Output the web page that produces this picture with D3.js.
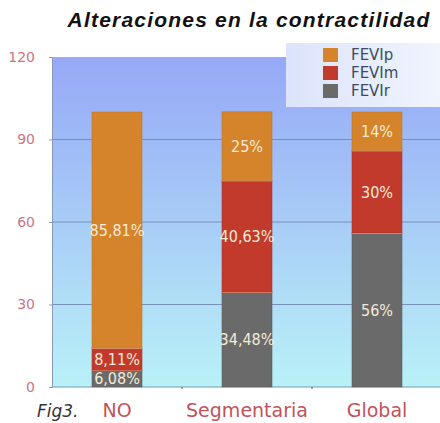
<!DOCTYPE html>
<html>
<head>
<meta charset="utf-8">
<script src="https://cdn.jsdelivr.net/npm/d3@7"></script>
<style>
  html, body { margin: 0; padding: 0; background: #fff; }
  svg { display: block; }
</style>
</head>
<body>
<div id="chart"></div>
<script>
// DATA
const categories = ["NO", "Segmentaria", "Global"];
const fevir = [6.08, 34.48, 56];
const fevim = [8.11, 40.63, 30];
const fevip = [85.81, 25, 14];
const seriesNames = ["FEVIr", "FEVIm", "FEVIp"];
const yTicks = [0, 30, 60, 90, 120];

const width = 440;
const height = 423;
const margin = { top: 57, right: -2, bottom: 36, left: 52 };

const colors = { FEVIp: "#d5842b", FEVIm: "#c13a2c", FEVIr: "#6a6a6a" };

const rows = categories.map((c, i) => ({ cat: c, FEVIr: fevir[i], FEVIm: fevim[i], FEVIp: fevip[i] }));
const stacked = d3.stack().keys(seriesNames)(rows);

function fmt(v) {
    return String(v).replace('.', ',') + '%';
}

const svg = d3.select('#chart').append('svg')
    .attr('width', width)
    .attr('height', height);

const defs = svg.append('defs');
const bg = defs.append('linearGradient').attr('id', 'bg')
    .attr('x1', 0).attr('y1', 0).attr('x2', 0).attr('y2', 1);
bg.append('stop').attr('offset', '0%').attr('stop-color', '#96a8f6');
bg.append('stop').attr('offset', '100%').attr('stop-color', '#b9f1f7');

const lg = defs.append('linearGradient').attr('id', 'lg')
    .attr('x1', 0).attr('y1', 0).attr('x2', 1).attr('y2', 0);
lg.append('stop').attr('offset', '0%').attr('stop-color', '#dce4fb');
lg.append('stop').attr('offset', '100%').attr('stop-color', '#f0f4fd');

const x = d3.scaleBand()
    .domain(categories)
    .range([margin.left, width - margin.right])
    .paddingInner(0.615)
    .paddingOuter(0.3075);

const y = d3.scaleLinear()
    .domain([0, 120])
    .range([height - margin.bottom, margin.top]);

// plot background
svg.append('rect')
    .attr('x', margin.left)
    .attr('y', y(120))
    .attr('width', width - margin.left)
    .attr('height', y(0) - y(120))
    .attr('fill', 'url(#bg)');

// gridlines
svg.append('g')
    .selectAll('line')
    .data(yTicks.filter(t => t > 0 && t < 120))
    .enter().append('line')
    .attr('x1', margin.left)
    .attr('x2', width)
    .attr('y1', d => y(d))
    .attr('y2', d => y(d))
    .attr('stroke', '#7890b8')
    .attr('stroke-width', 1);

// y axis
const yAxis = svg.append('g')
    .attr('transform', `translate(${margin.left},0)`)
    .call(d3.axisLeft(y).tickValues(yTicks).tickSize(3).tickPadding(14));
yAxis.select('.domain').attr('stroke', '#8a98b8');
yAxis.selectAll('.tick line').attr('stroke', '#8a98b8');
yAxis.selectAll('text')
    .attr('fill', '#c97684')
    .style('font-family', 'DejaVu Sans')
    .style('font-size', '14px');

// x axis
const xAxis = svg.append('g')
    .attr('transform', `translate(0,${y(0)})`)
    .call(d3.axisBottom(x).tickSize(0).tickPadding(17));
xAxis.select('.domain').attr('stroke', '#7b98b0').attr('d', `M${margin.left},0H${width}`);
xAxis.selectAll('text')
    .attr('fill', '#c2525a')
    .style('font-family', 'DejaVu Sans')
    .style('font-size', '19px');

// small ticks between categories
svg.append('g')
    .selectAll('line')
    .data(categories.slice(1))
    .enter().append('line')
    .attr('x1', d => x(d) - x.step() * x.paddingInner() / 2)
    .attr('x2', d => x(d) - x.step() * x.paddingInner() / 2)
    .attr('y1', y(0))
    .attr('y2', y(0) + 2)
    .attr('stroke', '#555');

// bars
const layers = svg.append('g').selectAll('g.layer')
    .data(stacked)
    .enter().append('g')
    .attr('class', 'layer');

layers.selectAll('rect')
    .data(d => d.map(s => ({ key: d.key, s: s })))
    .enter().append('rect')
    .attr('x', d => x(d.s.data.cat))
    .attr('y', d => y(d.s[1]))
    .attr('width', x.bandwidth())
    .attr('height', d => y(d.s[0]) - y(d.s[1]))
    .attr('fill', d => colors[d.key])
    .attr('stroke', d => d3.color(colors[d.key]).darker(0.4))
    .attr('stroke-opacity', 0.5)
    .attr('stroke-width', 1);

// light separators between segments
layers.filter(d => d.key !== 'FEVIp')
    .selectAll('line')
    .data(d => d.map(s => ({ key: d.key, s: s })))
    .enter().append('line')
    .attr('x1', d => x(d.s.data.cat))
    .attr('x2', d => x(d.s.data.cat) + x.bandwidth())
    .attr('y1', d => y(d.s[1]))
    .attr('y2', d => y(d.s[1]))
    .attr('stroke', '#f3b89a')
    .attr('stroke-width', 1.5);

// value labels
layers.selectAll('text')
    .data(d => d.map(s => ({ key: d.key, s: s })))
    .enter().append('text')
    .attr('x', d => x(d.s.data.cat) + x.bandwidth() / 2)
    .attr('y', d => (y(d.s[0]) + y(d.s[1])) / 2)
    .attr('dy', '0.36em')
    .attr('text-anchor', 'middle')
    .attr('fill', '#f6ead6')
    .style('font-family', 'DejaVu Sans Condensed')
    .style('font-size', '16px')
    .text(d => fmt(d.s.data[d.key]));

// legend
const legend = svg.append('g');
legend.append('rect')
    .attr('x', 286)
    .attr('y', 43)
    .attr('width', width - 286)
    .attr('height', 64)
    .attr('fill', 'url(#lg)');

const legendItems = legend.selectAll('g.item')
    .data(seriesNames.slice().reverse())
    .enter().append('g')
    .attr('class', 'item')
    .attr('transform', (d, i) => `translate(323,${55 + i * 18})`);

legendItems.append('rect')
    .attr('x', 0)
    .attr('y', -7)
    .attr('width', 15)
    .attr('height', 14)
    .attr('fill', d => colors[d]);

legendItems.append('text')
    .attr('x', 28)
    .attr('dy', '0.36em')
    .attr('fill', '#3d4a66')
    .style('font-family', 'DejaVu Sans')
    .style('font-size', '15px')
    .text(d => d);

// title
svg.append('text')
    .attr('x', 249)
    .attr('y', 27)
    .attr('text-anchor', 'middle')
    .attr('fill', '#111')
    .style('font-family', 'Liberation Sans')
    .style('font-weight', 'bold')
    .style('font-style', 'italic')
    .style('font-size', '21px')
    .style('letter-spacing', '1.2px')
    .text('Alteraciones en la contractilidad');

// figure label
svg.append('text')
    .attr('x', 37)
    .attr('y', 417)
    .attr('fill', '#333')
    .style('font-family', 'DejaVu Sans')
    .style('font-style', 'italic')
    .style('font-size', '17px')
    .text('Fig3.');
</script>
</body>
</html>
